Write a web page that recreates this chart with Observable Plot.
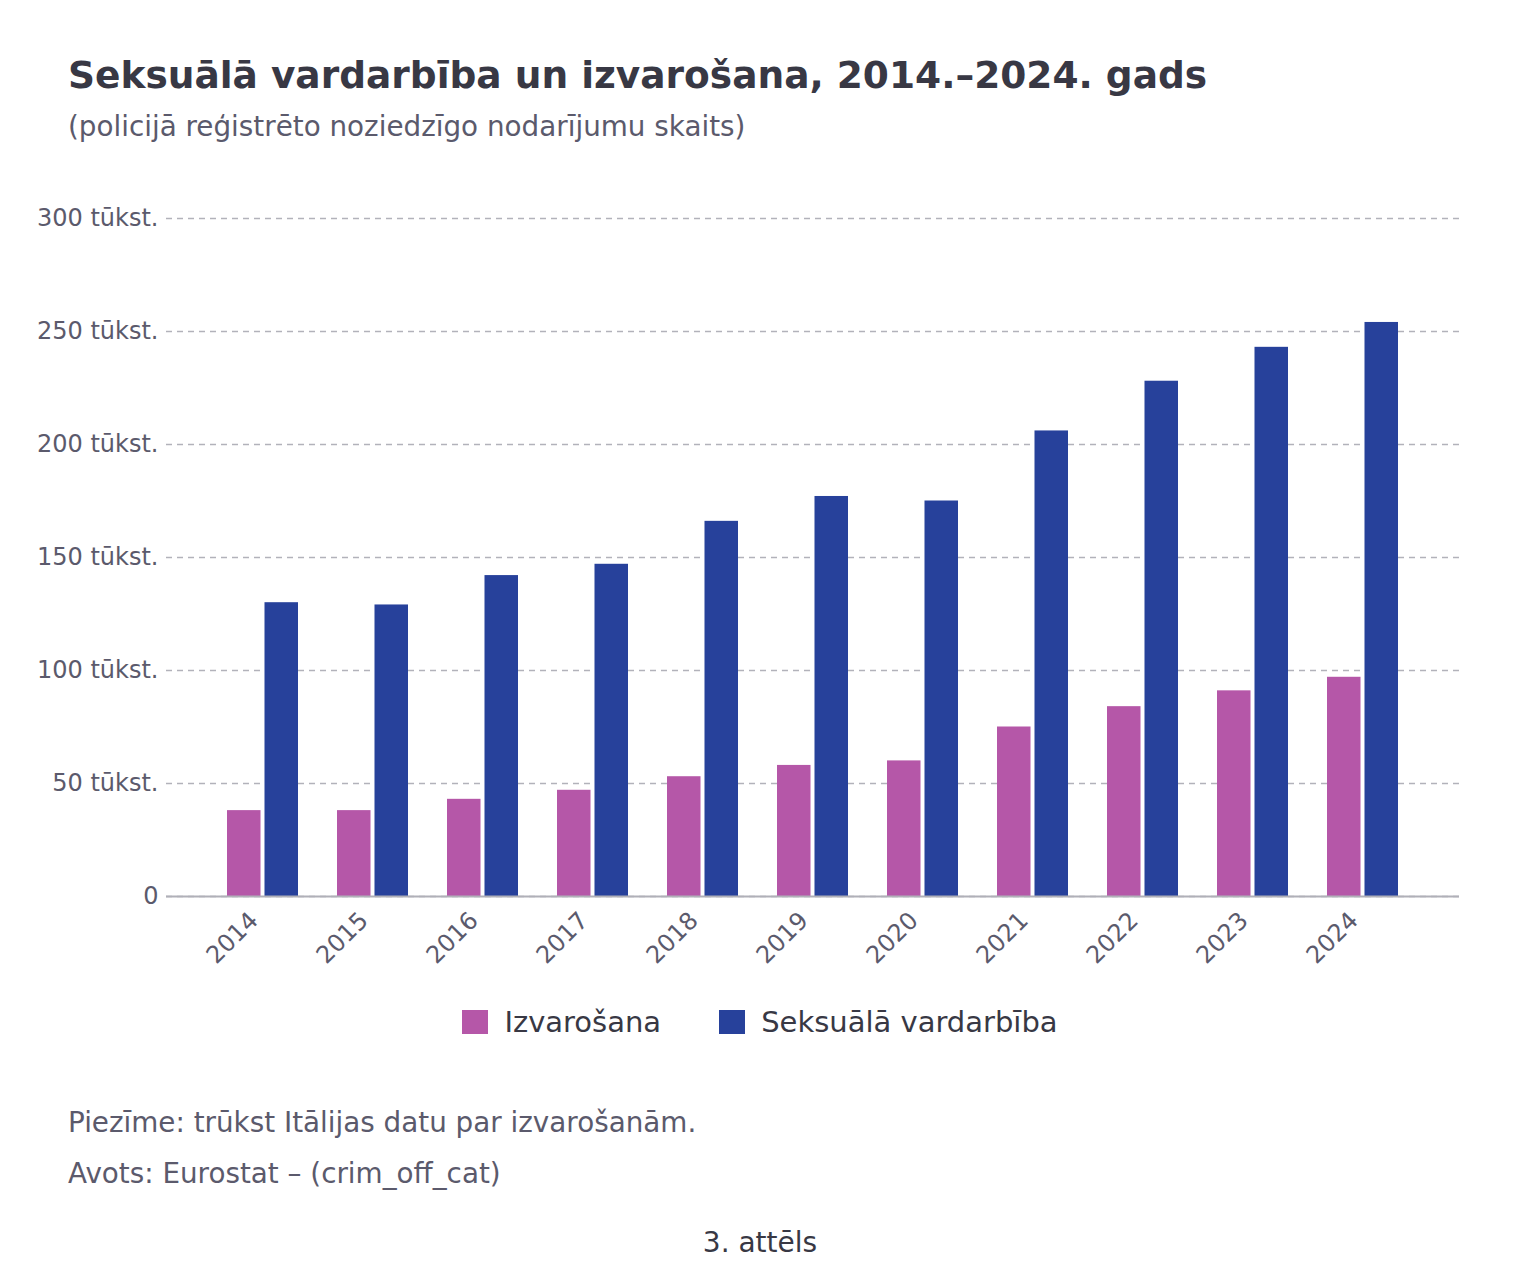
<!DOCTYPE html>
<html>
<head>
<meta charset="utf-8">
<script src="https://cdn.jsdelivr.net/npm/d3@7"></script>
<script src="https://cdn.jsdelivr.net/npm/@observablehq/plot@0.6"></script>
<style>
  html, body { margin: 0; padding: 0; background: #fff; }
  body { width: 1520px; height: 1280px; position: relative; font-family: "DejaVu Sans", sans-serif; }
  #title { position: absolute; left: 68px; top: 53px; font-size: 37.5px; font-weight: bold; color: #383844; white-space: nowrap; }
  #subtitle { position: absolute; left: 68px; top: 110px; font-size: 27.8px; color: #5b5a6c; white-space: nowrap; }
  #chart { position: absolute; left: 0; top: 190px; }
  #legend { position: absolute; left: 0; width: 1520px; top: 1005px; display: flex; justify-content: center; gap: 58px; font-size: 29px; color: #383844; }
  #legend .item { display: flex; align-items: center; gap: 16px; }
  #legend .sw { width: 26px; height: 24px; display: inline-block; }
  .note { position: absolute; left: 68px; font-size: 27.8px; color: #5b5a6c; white-space: nowrap; }
  #fig { position: absolute; left: 0; width: 1520px; top: 1226px; text-align: center; font-size: 28px; color: #383844; }
</style>
</head>
<body>
<div id="title">Seksuālā vardarbība un izvarošana, 2014.–2024. gads</div>
<div id="subtitle">(policijā reģistrēto noziedzīgo nodarījumu skaits)</div>
<div id="chart"></div>
<div id="legend"></div>
<div class="note" style="top:1106px">Piezīme: trūkst Itālijas datu par izvarošanām.</div>
<div class="note" style="top:1157px">Avots: Eurostat – (crim_off_cat)</div>
<div id="fig">3. attēls</div>
<script>
const years = ["2014","2015","2016","2017","2018","2019","2020","2021","2022","2023","2024"];
const seriesNames = ["Izvarošana", "Seksuālā vardarbība"];
const seriesColors = ["#b557a8", "#27419b"];
const rape = [38, 38, 43, 47, 53, 58, 60, 75, 84, 91, 97];          // thousands
const sexualViolence = [130, 129, 142, 147, 166, 177, 175, 206, 228, 243, 254]; // thousands
const yTicks = [0, 50, 100, 150, 200, 250, 300];

const rows = years.flatMap((y, i) => [
  {year: y, series: seriesNames[0], value: rape[i] * 1000},
  {year: y, series: seriesNames[1], value: sexualViolence[i] * 1000}
]);

const W = 1520, mL = 166, mR = 61, pIn = 0.357, pOut = 0.534;
const step = (W - mL - mR) / (years.length - pIn + 2 * pOut);
const bw = step * (1 - pIn);
const half = bw / 2 + 2;

const plot = Plot.plot({
  width: W,
  height: 800,
  marginLeft: mL,
  marginRight: mR,
  marginTop: 28,
  marginBottom: 94,
  style: {fontFamily: "DejaVu Sans, sans-serif", fontSize: "24px", color: "#5b5a6c", background: "#fff"},
  x: {domain: years, paddingInner: pIn, paddingOuter: pOut, label: null},
  y: {domain: [0, 300000], label: null},
  color: {domain: seriesNames, range: seriesColors},
  marks: [
    Plot.gridY(yTicks.map(d => d * 1000), {stroke: "#b2b2ba", strokeOpacity: 1, strokeWidth: 1.7, strokeDasharray: "6,5"}),
    Plot.barY(rows.filter(d => d.series === seriesNames[0]), {x: "year", y: "value", fill: "series", insetRight: half}),
    Plot.barY(rows.filter(d => d.series === seriesNames[1]), {x: "year", y: "value", fill: "series", insetLeft: half}),
    Plot.ruleY([0], {stroke: "#b0b0b8", strokeWidth: 2}),
    Plot.axisY(yTicks.map(d => d * 1000), {tickSize: 0, tickPadding: 8, fontSize: 24, fill: "#5b5a6c",
      tickFormat: d => d === 0 ? "0" : (d / 1000) + " tūkst.", label: null}),
    Plot.axisX({tickSize: 0, tickRotate: -45, tickPadding: 14, dx: -9, dy: 6, fontSize: 24, fill: "#5b5a6c", label: null})
  ]
});
document.getElementById("chart").appendChild(plot);

const legend = document.getElementById("legend");
seriesNames.forEach((n, i) => {
  const it = document.createElement("div");
  it.className = "item";
  const sw = document.createElement("span");
  sw.className = "sw";
  sw.style.background = seriesColors[i];
  const t = document.createElement("span");
  t.textContent = n;
  it.appendChild(sw); it.appendChild(t);
  legend.appendChild(it);
});
</script>
</body>
</html>
